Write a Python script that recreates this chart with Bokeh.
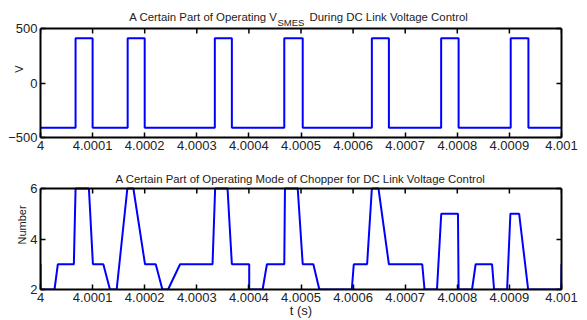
import math
from bokeh.plotting import figure
from bokeh.layouts import column
from bokeh.models import (Range1d, FixedTicker, CustomJSTickFormatter, LinearAxis, Label, Span)
from bokeh.embed import file_html
from bokeh.resources import INLINE

# ---------------- data ----------------
t_ticks = [4.0, 4.0001, 4.0002, 4.0003, 4.0004, 4.0005, 4.0006, 4.0007, 4.0008, 4.0009, 4.001]
v_ticks = [-500, 0, 500]
mode_ticks = [2, 4, 6]

# V_SMES: switching instants (step "after") and levels
vsmes_t = [4.0, 4.0000673, 4.0001, 4.0001673, 4.0002, 4.0003346, 4.0003673, 4.0004679,
           4.0005033, 4.000636, 4.0006687, 4.000769, 4.0008025, 4.0009025, 4.0009365, 4.001]
vsmes_v = [-410, 410, -410, 410, -410, 410, -410, 410,
           -410, 410, -410, 410, -410, 410, -410, -410]

# chopper operating mode
mode_t = [4.0, 4.0, 4.0000269, 4.0000333, 4.000064, 4.0000673, 4.0000929, 4.0001006,
          4.0001206, 4.0001333, 4.0001462, 4.0001667, 4.0001783, 4.0002006, 4.0002212,
          4.000234, 4.0002448, 4.0002679, 4.0003302, 4.0003352, 4.000359, 4.0003673,
          4.0004006, 4.0004006, 4.0004263, 4.0004346, 4.0004679, 4.0004692, 4.0004937,
          4.0005033, 4.0005237, 4.0005352, 4.0005975, 4.0006013, 4.0006269, 4.000636,
          4.0006487, 4.0006687, 4.0007327, 4.0007371, 4.000761, 4.0007692, 4.0008013,
          4.0008025, 4.0008283, 4.0008352, 4.0008667, 4.0008706, 4.0008956, 4.0009019,
          4.0009187, 4.000936, 4.0009995, 4.001]
mode_v = [3, 2, 2, 3, 3, 6, 6, 3, 3, 2,
          2, 6, 6, 3, 3, 2, 2, 3, 3, 6,
          6, 3, 3, 2, 2, 3, 3, 6, 6, 3,
          3, 2, 2, 3, 3, 6, 6, 3, 3, 2,
          2, 5, 5, 2, 2, 3, 3, 2, 2, 5,
          5, 2, 2, 3]

title1_parts = ["A Certain Part of Operating V", "SMES", "During DC Link Voltage Control"]
title2 = "A Certain Part of Operating Mode of Chopper for DC Link Voltage Control"

FONT = "Liberation Sans"
BLUE = "#0000ff"
TXT = "#222222"
W = 587
H = 160
TOP_PAD = 28          # pixels between canvas top and the axes box
TITLE_SIZE = "11.4px"


def make_plot(y0, y1, frame_h, bottom_border, yticks):
    # extend the range above the box so that the title fits inside the frame
    y_top = y1 + TOP_PAD * (y1 - y0) / (frame_h - TOP_PAD)
    p = figure(width=W, height=H, output_backend="svg", toolbar_location=None,
               x_range=Range1d(4.0, 4.001), y_range=Range1d(y0, y_top),
               min_border_left=40, min_border_right=26, min_border_top=0,
               min_border_bottom=bottom_border)
    p.title.visible = False
    p.outline_line_color = None
    p.xgrid.visible = False
    p.ygrid.visible = False
    p.xaxis.ticker = FixedTicker(ticks=t_ticks)
    p.xaxis.formatter = CustomJSTickFormatter(code="return String(Math.round(tick*1e4)/1e4)")
    p.yaxis.ticker = FixedTicker(ticks=yticks)
    p.yaxis.bounds = (y0, y1)
    right = LinearAxis(ticker=FixedTicker(ticks=yticks), bounds=(y0, y1),
                       formatter=CustomJSTickFormatter(code="return ''"))
    p.add_layout(right, "right")
    for ax in p.axis:
        ax.axis_line_color = "black"
        ax.axis_line_width = 2
        ax.major_tick_in = 5
        ax.major_tick_out = 0
        ax.major_tick_line_width = 1.5
        ax.major_tick_line_color = "black"
        ax.minor_tick_line_color = None
        ax.major_label_text_font = FONT
        ax.major_label_text_font_size = "13px"
        ax.major_label_text_color = TXT
        ax.major_label_standoff = 3
        ax.axis_label_text_font = FONT
        ax.axis_label_text_font_style = "normal"
        ax.axis_label_text_color = TXT
    right.major_label_standoff = 0
    right.major_label_text_font_size = "1px"
    # top edge of the box and its inward ticks
    p.add_layout(Span(location=y1, dimension="width", line_color="black", line_width=2))
    p.ray(x=t_ticks, y=[y1] * len(t_ticks), length=5, length_units="screen",
          angle=-math.pi / 2, line_color="black", line_width=1.5)
    return p, right


# ---------------- top plot ----------------
FH1 = H - 23
p1, r1 = make_plot(-500, 500, FH1, 23, v_ticks)
p1.step(vsmes_t, vsmes_v, mode="after", line_color=BLUE, line_width=2)
p1.left[0].axis_label = "V"
p1.left[0].axis_label_text_font_size = "11px"
p1.left[0].axis_label_standoff = -20

base1 = FH1 - 16.5
p1.add_layout(Label(x=237, y=base1, x_units="screen", y_units="screen",
                    text=title1_parts[0], text_align="right", text_baseline="alphabetic",
                    text_font=FONT, text_font_size=TITLE_SIZE, text_color=TXT))
p1.add_layout(Label(x=237, y=FH1 - 22, x_units="screen", y_units="screen",
                    text=title1_parts[1], text_align="left", text_baseline="alphabetic",
                    text_font=FONT, text_font_size="9.5px", text_color=TXT))
p1.add_layout(Label(x=269, y=base1, x_units="screen", y_units="screen",
                    text=title1_parts[2], text_align="left", text_baseline="alphabetic",
                    text_font=FONT, text_font_size=TITLE_SIZE, text_color=TXT))

# ---------------- bottom plot ----------------
FH2 = H - 31
p2, r2 = make_plot(2, 6, FH2, 31, mode_ticks)
p2.line(mode_t, mode_v, line_color=BLUE, line_width=2)
p2.left[0].axis_label = "Number"
p2.left[0].axis_label_text_font_size = "11px"
p2.left[0].axis_label_standoff = -1
p2.below[0].axis_label = "t (s)"
p2.below[0].axis_label_text_font_size = "13px"
p2.below[0].axis_label_standoff = -2

p2.add_layout(Label(x=260, y=FH2 - 18, x_units="screen", y_units="screen",
                    text=title2, text_align="center", text_baseline="alphabetic",
                    text_font=FONT, text_font_size=TITLE_SIZE, text_color=TXT))

layout = column(p1, p2, spacing=0)
open("out.html", "w").write(file_html(layout, INLINE))
